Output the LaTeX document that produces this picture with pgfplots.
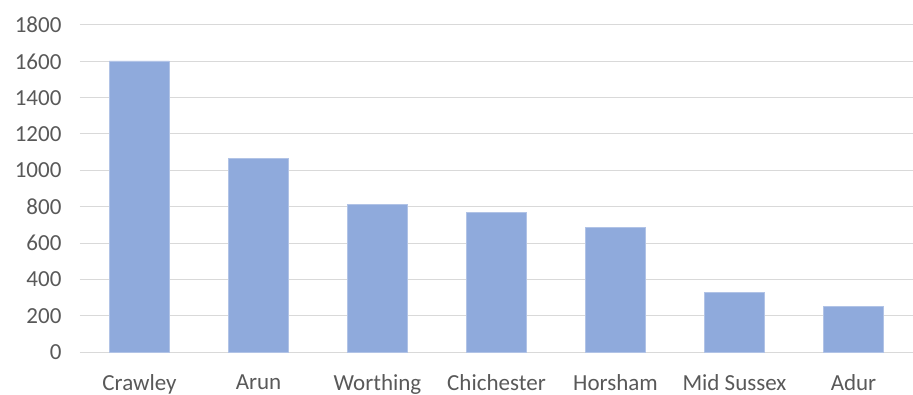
\documentclass[border=0pt]{standalone}
\usepackage{pgfplots}
\pgfplotsset{compat=1.18}
\usepackage{fontspec}
\setmainfont{Carlito}
\definecolor{barblue}{HTML}{8FAADC}
\definecolor{gridgray}{HTML}{D9D9D9}
\definecolor{txtgray}{HTML}{595959}
\begin{document}
\begin{tikzpicture}
\begin{axis}[
  at={(0pt,0pt)}, anchor=south west,
  scale only axis,
  width=833pt, height=327pt,
  xmin=-0.5, xmax=6.5,
  ymin=0, ymax=1800,
  ytick={0,200,...,1800},
  xtick=data,
  xticklabels={Crawley,Arun,Worthing,Chichester,Horsham,Mid Sussex,Adur},
  ybar, bar width=60pt,
  axis x line*=bottom,
  axis y line*=left,
  x axis line style={gridgray, line width=1pt},
  y axis line style={draw=none},
  ymajorgrids, grid style={gridgray, line width=1pt},
  major tick length=0pt,
  tick style={draw=none},
  ticklabel style={font=\fontsize{23}{26}\selectfont, text=txtgray},
  /pgf/number format/assume math mode=true,
  /pgf/number format/1000 sep={},
  yticklabel style={xshift=-15pt},
  xticklabel style={yshift=-19pt},
]
\addplot[fill=barblue, draw=barblue!70!white, line width=0.5pt] coordinates {
(0,1602) (1,1066) (2,813) (3,767) (4,684) (5,327) (6,253)};
\end{axis}
\pgfresetboundingbox
\path[use as bounding box] (-80pt,-42pt) rectangle (833pt,352pt);
\end{tikzpicture}
\end{document}
